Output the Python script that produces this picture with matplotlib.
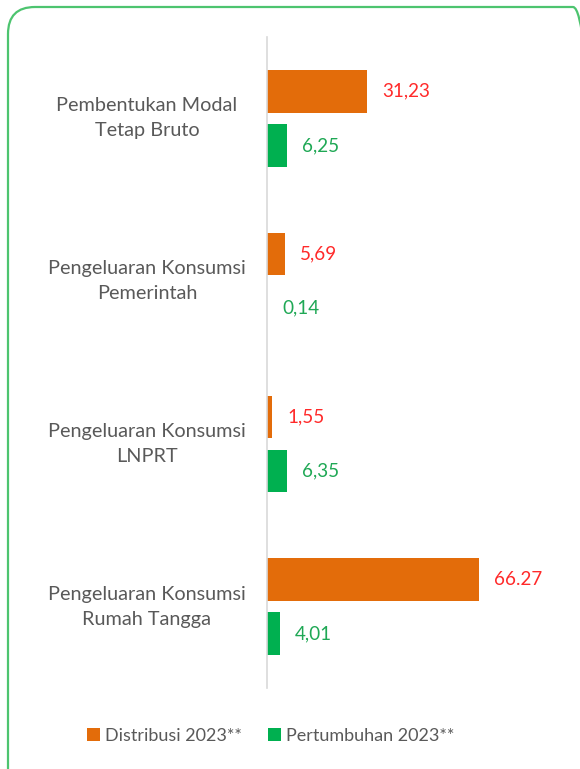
import matplotlib
matplotlib.use("Agg")
import matplotlib.pyplot as plt
from matplotlib.patches import FancyBboxPatch, Patch
import numpy as np

categories = ["Pembentukan Modal\nTetap Bruto",
              "Pengeluaran Konsumsi\nPemerintah",
              "Pengeluaran Konsumsi\nLNPRT",
              "Pengeluaran Konsumsi\nRumah Tangga"]
distribusi = [31.23, 5.69, 1.55, 66.27]
pertumbuhan = [6.25, 0.14, 6.35, 4.01]
distribusi_labels = ["31,23", "5,69", "1,55", "66.27"]
pertumbuhan_labels = ["6,25", "0,14", "6,35", "4,01"]
series_names = ["Distribusi 2023**", "Pertumbuhan 2023**"]

ORANGE = "#E36C0A"
GREEN = "#00B050"
RED_TXT = "#FF2A2A"
GREEN_TXT = "#1FA855"
GRAY_TXT = "#595959"

plt.rcParams['font.family'] = ['Lato', 'DejaVu Sans']

W, H = 580, 769
fig = plt.figure(figsize=(W / 100, H / 100), dpi=100)

# rounded border
border = FancyBboxPatch((8 / 100, -0.3), (600 - 8) / 100, (H - 7) / 100 + 0.3,
                        boxstyle="round,pad=0,rounding_size=0.27",
                        transform=fig.dpi_scale_trans, fill=False,
                        edgecolor="#4DC46F", linewidth=1.6, zorder=0)
fig.patches.append(border)

ax_left, ax_right = 267 / W, 571 / W
ax_top, ax_bot = 1 - 37 / H, 1 - 688 / H
ax = fig.add_axes([ax_left, ax_bot, ax_right - ax_left, ax_top - ax_bot])
ax.set_facecolor("none")

y = np.arange(len(categories))
bh = 0.26
off = 0.166
ax.barh(y - off, distribusi, height=bh, color=ORANGE)
ax.barh(y + off, pertumbuhan, height=bh, color=GREEN)
ax.set_xlim(0, 95)
ax.set_ylim(3.5, -0.5)

for i in range(len(categories)):
    ax.annotate(distribusi_labels[i], (distribusi[i], y[i] - off),
                xytext=(15, 0), textcoords="offset pixels",
                va="center", ha="left", color=RED_TXT, fontsize=13.6)
    ax.annotate(pertumbuhan_labels[i], (pertumbuhan[i], y[i] + off),
                xytext=(15, 0), textcoords="offset pixels",
                va="center", ha="left", color=GREEN_TXT, fontsize=13.6)
    ax.text(-(267 - 147) / 304, y[i], categories[i], transform=ax.get_yaxis_transform(),
            ha="center", va="center", multialignment="center",
            color=GRAY_TXT, fontsize=14.3, linespacing=1.58)

for s in ["top", "right", "bottom"]:
    ax.spines[s].set_visible(False)
ax.spines["left"].set_color("#D9D9D9")
ax.spines["left"].set_linewidth(1.2)
ax.set_xticks([])
ax.set_yticks([])

handles = [Patch(facecolor=ORANGE, edgecolor="none"), Patch(facecolor=GREEN, edgecolor="none")]
fig.legend(handles, series_names, loc="center", bbox_to_anchor=(271 / W, 1 - 736 / H),
           ncol=2, frameon=False, fontsize=13, handlelength=0.7, handleheight=0.7,
           handletextpad=0.3, columnspacing=1.45, labelcolor=GRAY_TXT)

fig.savefig("out.png", dpi=100)
